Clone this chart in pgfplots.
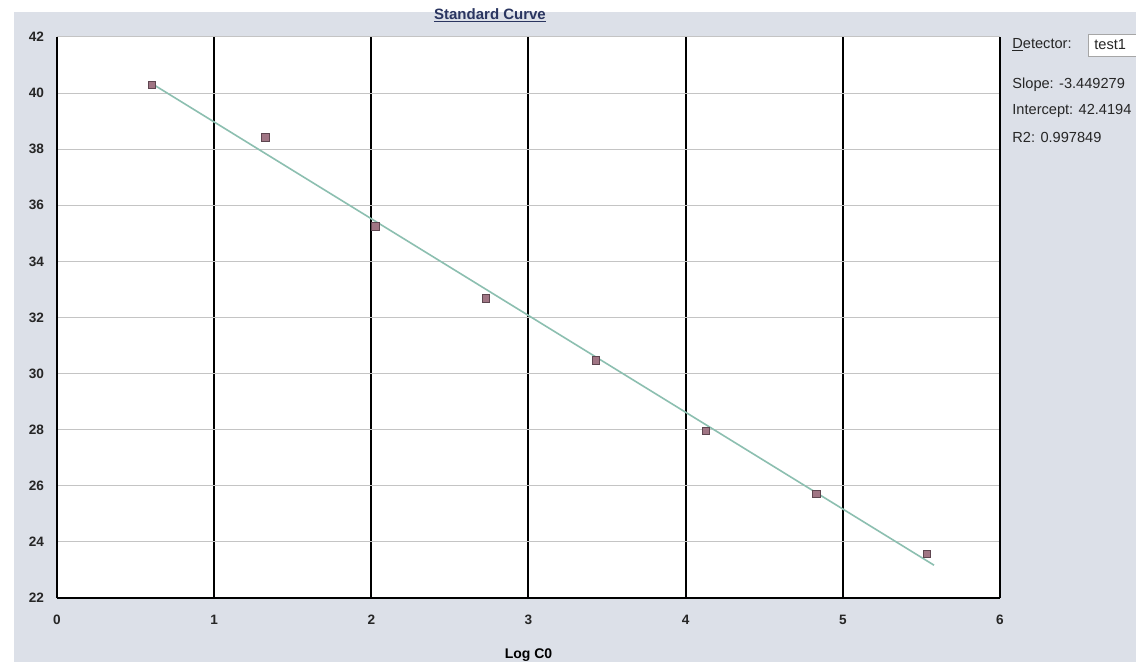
\documentclass[border=0pt]{standalone}
\usepackage{fontspec}
\setmainfont{Liberation Sans}
\usepackage{pgfplots}
\pgfplotsset{compat=1.18}

\definecolor{panelbg}{HTML}{DCE0E8}
\definecolor{fitline}{HTML}{8CBFB0}
\definecolor{markfill}{HTML}{A07584}
\definecolor{markdraw}{HTML}{5E4650}
\definecolor{hgrid}{HTML}{C4C4C4}
\definecolor{titleblue}{HTML}{2A3560}

\begin{document}
\begin{tikzpicture}
\useasboundingbox (0,0) rectangle (568pt,331pt);
\clip (0,0) rectangle (568pt,331pt);
\fill[white] (0,0) rectangle (568pt,331pt);
\fill[panelbg] (7pt,0) rectangle (568pt,325pt);

\begin{axis}[
    at={(28.5pt,32pt)}, anchor=south west,
    scale only axis,
    width=471.5pt, height=280.5pt,
    xmin=0, xmax=6, ymin=22, ymax=42,
    xtick={0,1,...,6},
    ytick={22,24,...,42},
    axis background/.style={fill=white},
    axis x line*=bottom,
    axis y line*=box,
    every outer x axis line/.append style={-},
    every outer y axis line/.append style={-},
    axis line style={black, line width=1.1pt},
    major tick length=0pt,
    xmajorgrids, ymajorgrids,
    x grid style={black, line width=1pt},
    y grid style={hgrid, line width=0.5pt},
    /pgf/number format/assume math mode=true,
    tick label style={font=\fontsize{6.8}{7}\selectfont\bfseries, text=black!85},
    yticklabel style={xshift=-3pt},
    xticklabel style={yshift=-5pt},
    xlabel={Log C0},
    xlabel style={font=\fontsize{7}{8}\selectfont\bfseries, at={(axis description cs:0.5,0)}, yshift=-22pt},
]
% regression line: slope -3.449279, intercept 42.4194
\addplot[fitline, line width=0.8pt] coordinates {(0.60,40.35) (5.58,23.17)};
\addplot[only marks, mark=square*, mark size=1.9pt,
    mark options={fill=markfill, draw=markdraw, line width=0.4pt}]
    coordinates {
    (0.605,40.29) (1.325,38.43) (2.025,35.25) (2.73,32.68)
    (3.43,30.46) (4.13,27.96) (4.83,25.71) (5.535,23.57)};
\end{axis}

% title
\node[font=\fontsize{7.5}{8}\selectfont\bfseries, text=titleblue, inner sep=0pt] (t) at (245pt,324pt) {Standard Curve};
\draw[titleblue, line width=0.5pt] ([yshift=-1.2pt]t.base west) -- ([yshift=-1.2pt]t.base east);

% side panel
\begin{scope}[every node/.style={font=\fontsize{7.3}{8}\selectfont, anchor=west, inner sep=0pt, text=black!85}]
\node at (506pt,308.5pt) {\underbar{D}etector:};
\filldraw[fill=white, draw=gray!70, line width=0.4pt] (544pt,303pt) rectangle (572pt,314pt);
\node at (547pt,308.5pt) {test1};
\node at (506pt,288.5pt) {Slope: -3.449279};
\node at (506pt,275.5pt) {Intercept: 42.4194};
\node at (506pt,262.5pt) {R2: 0.997849};
\end{scope}
\end{tikzpicture}
\end{document}
